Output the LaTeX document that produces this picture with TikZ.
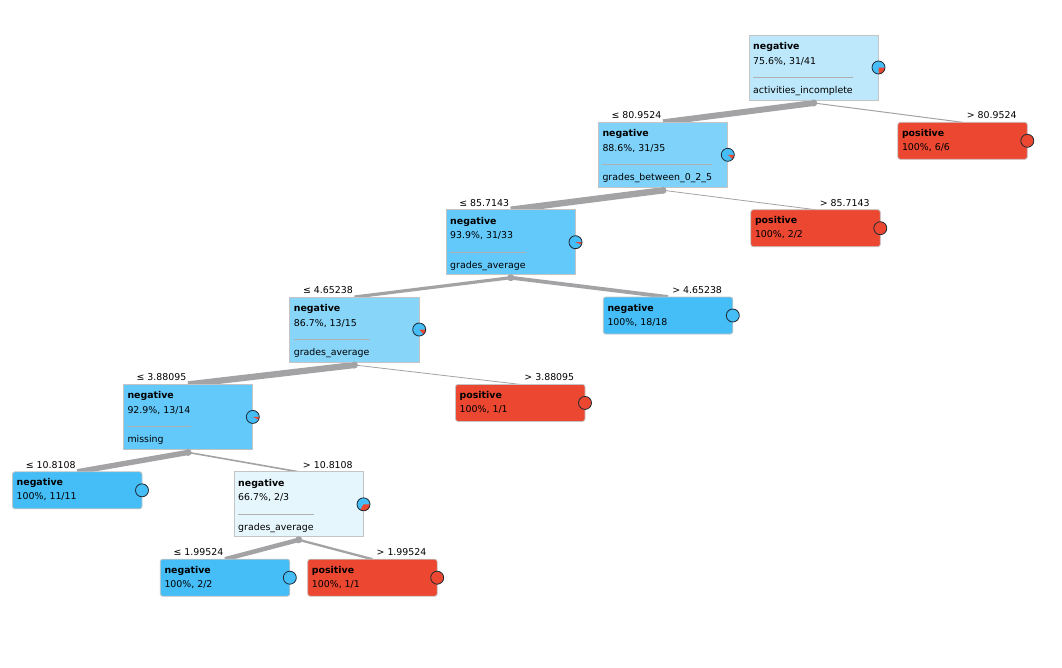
\documentclass[tikz,border=0pt]{standalone}
\usepackage{fontspec}
\setmainfont{DejaVu Sans}
\usetikzlibrary{calc}

% palette
\definecolor{negc}{HTML}{45BDF7}
\definecolor{posc}{HTML}{EB4731}
\definecolor{rootc}{HTML}{BDE8FB}
\definecolor{midc}{HTML}{7FD3FA}
\definecolor{deepc}{HTML}{63C9FB}
\definecolor{paleblue}{HTML}{88D5FA}
\definecolor{faintc}{HTML}{E6F6FD}
\definecolor{boxline}{HTML}{C4C4C4}
\definecolor{sepc}{HTML}{B0B0B0}
\definecolor{linkc}{HTML}{A3A3A6}
\definecolor{piec}{HTML}{1E2A33}

\pgfdeclarelayer{paper}
\pgfdeclarelayer{links}
\pgfsetlayers{paper,links,main}

\tikzset{
  box/.style={rectangle, draw=boxline, line width=0.8pt, minimum width=129.5pt,
    inner sep=0pt, outer sep=0pt, anchor=north west},
  splitbox/.style={box, minimum height=65pt},
  leafbox/.style={box, minimum height=37pt, rounded corners=2.5pt},
  txt/.style={inner sep=0pt, anchor=base west, font=\fontsize{9.4}{11}\selectfont},
  head/.style={txt, font=\fontsize{9.4}{11}\selectfont\bfseries},
  lbl/.style={inner sep=0pt, font=\fontsize{9.4}{11}\selectfont},
  joint/.style={circle, fill=linkc, inner sep=0pt, minimum size=7pt},
  link/.style={draw=linkc},
  piering/.style={draw=piec, line width=0.8pt}
}

% class-share disc on the right edge of a box
\newcommand\sharedisc[2]{%
  \fill[negc] (#1) circle[radius=6.5pt];
  \fill[posc] (#1) -- ++(6.5pt,0pt) arc[start angle=0, end angle={-360*#2}, radius=6.5pt] -- cycle;
  \draw[piering] (#1) circle[radius=6.5pt];
}

% inner (split) node: name, left, top, fill, stats, attribute, positive share
\newcommand\splitnode[7]{%
  \node[splitbox, fill=#4] (#1) at (#2,#3) {};
  \node[head] (#1-h) at ([xshift=4pt,yshift=-14.5pt]#1.north west) {negative};
  \node[txt] (#1-s) at ([xshift=4pt,yshift=-29pt]#1.north west) {#5};
  \node[txt] (#1-a) at ([xshift=4pt,yshift=-58.5pt]#1.north west) {#6};
  \coordinate (#1-r) at ([yshift=-42.5pt]#1.north west);
  \draw[sepc, line width=1pt] let \p1=(#1-s.east), \p2=(#1-a.east), \p3=(#1-r) in
    (#1-a.west |- #1-r) -- ({max(\x1,\x2)},\y3);
  \sharedisc{#1.east}{#7}
  \node[joint] (#1-j) at ([yshift=-3pt]#1.south) {};
}

% leaf node: name, left, top, fill, class, stats
\newcommand\leafnode[6]{%
  \node[leafbox, fill=#4] (#1) at (#2,#3) {};
  \node[head] (#1-h) at ([xshift=4pt,yshift=-14pt]#1.north west) {#5};
  \node[txt] (#1-s) at ([xshift=4pt,yshift=-28pt]#1.north west) {#6};
  \fill[#4] (#1.east) circle[radius=6.5pt];
  \draw[piering] (#1.east) circle[radius=6.5pt];
}

% branch: parent, child, width
\newcommand\branch[3]{%
  \begin{pgfonlayer}{links}
    \draw[link, line width=#3] (#1-j.center) -- (#2.north);
  \end{pgfonlayer}
}
\newcommand\lowlabel[2]{\node[lbl, anchor=base east] (#1-t) at ([xshift=-1.5pt,yshift=3.5pt]#1.north) {#2};}
\newcommand\highlabel[2]{\node[lbl, anchor=base west] (#1-t) at ([xshift=4pt,yshift=3.5pt]#1.north) {#2};}

\begin{document}
\begin{tikzpicture}[x=1pt,y=-1pt]
  \begin{pgfonlayer}{paper}
    \fill[white] (0,0) rectangle (1062,667);
  \end{pgfonlayer}
  \useasboundingbox (0,0) rectangle (1062,667);

  % split nodes
  \splitnode{root}{749}{35}{rootc}{75.6\%, 31/41}{activities\_incomplete}{10/41}
  \splitnode{n2}{598.3}{122.3}{midc}{88.6\%, 31/35}{grades\_between\_0\_2\_5}{4/35}
  \splitnode{n3}{446}{209.7}{deepc}{93.9\%, 31/33}{grades\_average}{2/33}
  \splitnode{n4}{289.7}{297}{paleblue}{86.7\%, 13/15}{grades\_average}{2/15}
  \splitnode{n5}{123.3}{384.4}{deepc}{92.9\%, 13/14}{missing}{1/14}
  \splitnode{n6}{234}{471.8}{faintc}{66.7\%, 2/3}{grades\_average}{1/3}

  % leaves
  \leafnode{l1}{897.8}{122.3}{posc}{positive}{100\%, 6/6}
  \leafnode{l2}{750.8}{209.7}{posc}{positive}{100\%, 2/2}
  \leafnode{l3}{603.3}{297}{negc}{negative}{100\%, 18/18}
  \leafnode{l4}{455.5}{384.4}{posc}{positive}{100\%, 1/1}
  \leafnode{l5}{12.5}{471.8}{negc}{negative}{100\%, 11/11}
  \leafnode{l6}{160.3}{559.2}{negc}{negative}{100\%, 2/2}
  \leafnode{l7}{307.7}{559.2}{posc}{positive}{100\%, 1/1}

  % branches, width by share of samples
  \branch{root}{n2}{6pt}   \branch{root}{l1}{1pt}
  \branch{n2}{n3}{6.4pt}   \branch{n2}{l2}{0.8pt}
  \branch{n3}{n4}{3.2pt}   \branch{n3}{l3}{3.8pt}
  \branch{n4}{n5}{6.3pt}   \branch{n4}{l4}{0.8pt}
  \branch{n5}{l5}{5.4pt}   \branch{n5}{n6}{1.6pt}
  \branch{n6}{l6}{4.5pt}   \branch{n6}{l7}{2.3pt}

  % split thresholds
  \lowlabel{n2}{≤ 80.9524}  \highlabel{l1}{> 80.9524}
  \lowlabel{n3}{≤ 85.7143}  \highlabel{l2}{> 85.7143}
  \lowlabel{n4}{≤ 4.65238}  \highlabel{l3}{> 4.65238}
  \lowlabel{n5}{≤ 3.88095}  \highlabel{l4}{> 3.88095}
  \lowlabel{l5}{≤ 10.8108}  \highlabel{n6}{> 10.8108}
  \lowlabel{l6}{≤ 1.99524}  \highlabel{l7}{> 1.99524}
\end{tikzpicture}
\end{document}
